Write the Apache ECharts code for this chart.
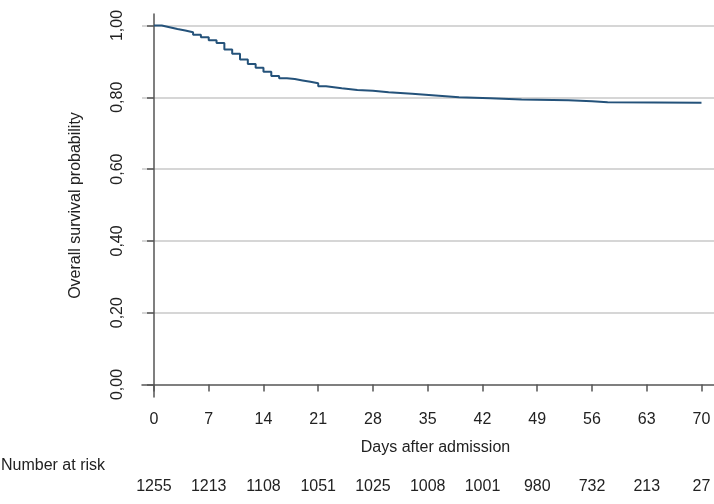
<!DOCTYPE html>
<html lang="en">
<head>
    <meta charset="UTF-8">
    <title>Overall survival</title>
    <script src="https://cdn.jsdelivr.net/npm/echarts@6/dist/echarts.min.js"></script>
    <style>
        html, body { margin: 0; padding: 0; background: #fff; }
    </style>
</head>
<body>
<div id="main" style="width: 714px;height:504px;"></div>
<script>
    // Kaplan-Meier steps
    var days = [0, 1, 2, 3, 4, 5, 6, 7, 8, 9, 10, 11, 12, 13, 14, 15, 16, 17, 18, 19, 20,
        21, 22, 23, 24, 26, 28, 30, 33, 36, 39, 43, 47, 53, 56, 58, 70];
    var survival = [1.000, 0.995, 0.990, 0.986, 0.981, 0.974, 0.967, 0.959, 0.951, 0.933, 0.921,
        0.905, 0.893, 0.882, 0.871, 0.859, 0.853, 0.851, 0.847, 0.843, 0.839,
        0.831, 0.828, 0.825, 0.820, 0.818, 0.814, 0.810, 0.805, 0.800, 0.797,
        0.794, 0.792, 0.789, 0.786, 0.785, 0.785];
    var tickDays = [0, 7, 14, 21, 28, 35, 42, 49, 56, 63, 70];
    var atRisk = [1255, 1213, 1108, 1051, 1025, 1008, 1001, 980, 732, 213, 27];
    var yTicks = [0, 0.2, 0.4, 0.6, 0.8, 1.0];
    var yGrid = [0.2, 0.4, 0.6, 0.8, 1.0];

    var font = 'Liberation Sans';
    var txt = '#222';
    var axisCol = '#555';

    var points = [];
    for (var i = 0; i < days.length; i++) {
        points.push([days[i], survival[i]]);
    }

    var myChart = echarts.init(document.getElementById('main'));
    var option = {
        animation: false,
        textStyle: { fontFamily: font },
        grid: { left: 142, right: 0, top: 14, bottom: 107, containLabel: false },
        graphic: [
            {
                type: 'text',
                left: 1,
                top: 458,
                style: { text: 'Number at risk', font: '16px ' + font, fill: txt }
            }
        ],
        xAxis: [
            {
                type: 'value',
                min: -1.53,
                max: 71.6,
                name: 'Days after admission',
                nameLocation: 'middle',
                nameGap: 43,
                nameTextStyle: { fontSize: 16, color: txt, fontFamily: font, padding: [0, 0, 0, 15] },
                axisLine: { show: true, lineStyle: { color: axisCol, width: 1.5 } },
                axisTick: { show: true, length: 7, customValues: tickDays, lineStyle: { color: axisCol, width: 1.5 } },
                axisLabel: { customValues: tickDays, fontSize: 16, color: txt, fontFamily: font, margin: 15 },
                splitLine: { show: false }
            },
            {
                type: 'value',
                position: 'bottom',
                offset: 67,
                min: -1.53,
                max: 71.6,
                axisLine: { show: false },
                axisTick: { show: false, customValues: tickDays },
                axisLabel: {
                    customValues: tickDays,
                    fontSize: 16, color: txt, fontFamily: font, margin: 15,
                    formatter: function (v) {
                        var k = tickDays.indexOf(Math.round(v));
                        return k >= 0 ? String(atRisk[k]) : '';
                    }
                },
                splitLine: { show: false }
            }
        ],
        yAxis: [
            {
                type: 'value',
                min: -0.0348,
                max: 1.032,
                name: 'Overall survival probability',
                nameLocation: 'middle',
                nameGap: 58,
                nameTextStyle: { fontSize: 16, color: txt, fontFamily: font },
                axisLine: { show: true, lineStyle: { color: axisCol, width: 1.5 } },
                axisTick: { show: true, length: 7, customValues: yTicks, lineStyle: { color: axisCol, width: 1.5 } },
                axisLabel: {
                    customValues: yTicks,
                    rotate: 90,
                    margin: 16,
                    fontSize: 16, color: txt, fontFamily: font,
                    formatter: function (v) { return v.toFixed(2).replace('.', ','); }
                },
                splitLine: { show: false }
            },
            {
                // grid lines only
                type: 'value',
                position: 'left',
                min: -0.0348,
                max: 1.032,
                axisLine: { show: false },
                axisTick: { show: false, customValues: yGrid },
                axisLabel: { show: false, customValues: yGrid },
                splitLine: { show: true, lineStyle: { color: '#c8c8c8', width: 1.5 } }
            }
        ],
        series: [
            {
                name: 'Overall survival',
                type: 'line',
                step: 'end',
                symbol: 'none',
                data: points,
                lineStyle: { color: '#24527a', width: 2 },
                itemStyle: { color: '#24527a' },
                z: 5
            }
        ]
    };
    myChart.setOption(option);
</script>
</body>
</html>
